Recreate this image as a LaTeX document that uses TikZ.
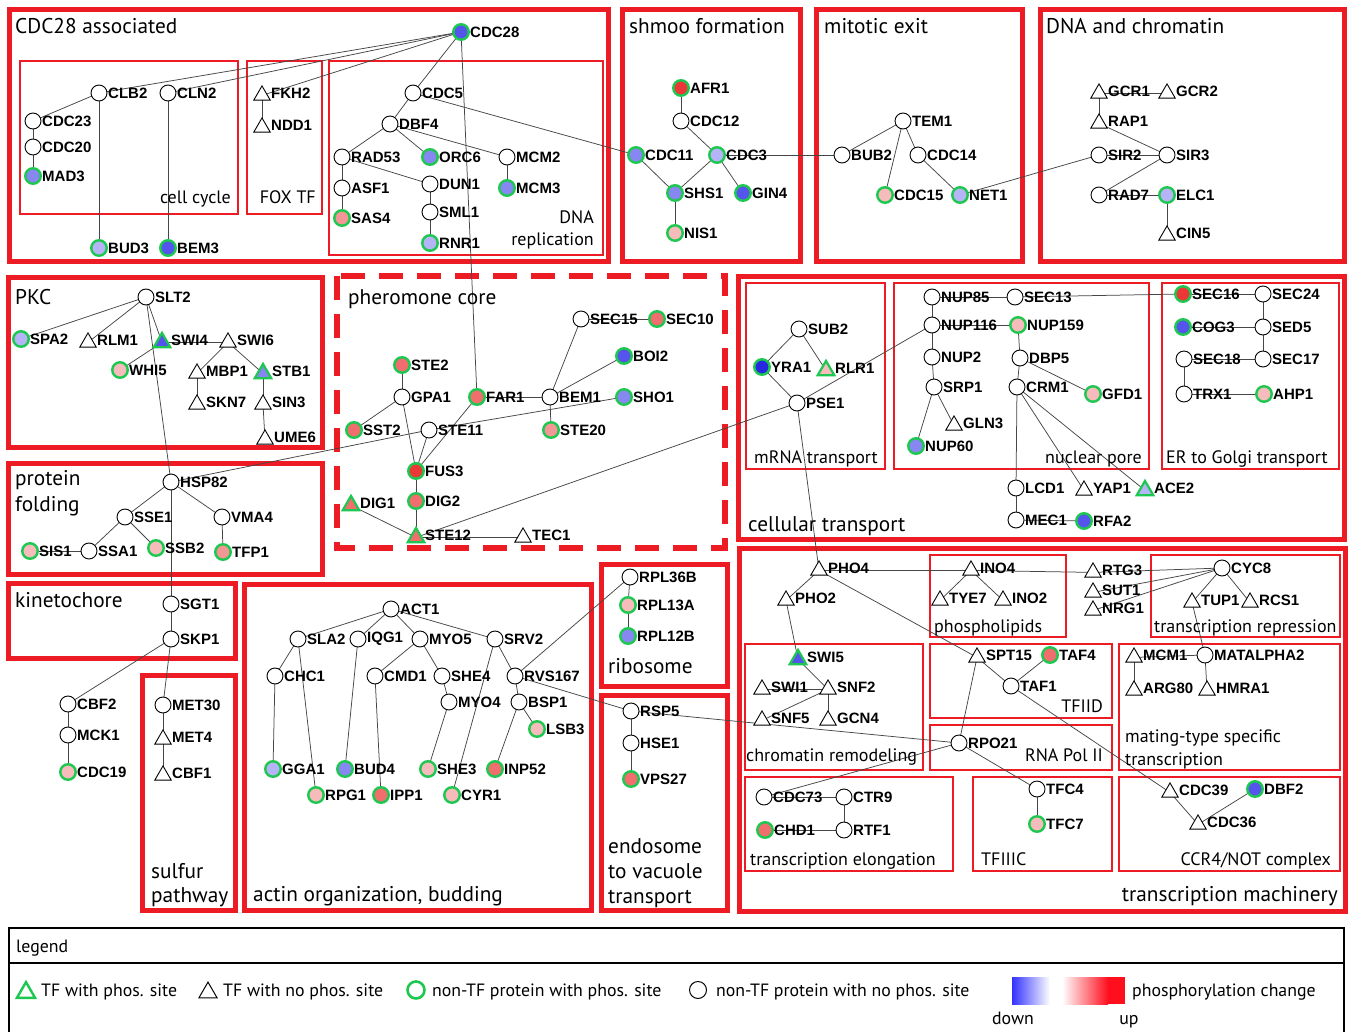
\documentclass[tikz,border=0pt]{standalone}
\usepackage{fontspec}
\setmainfont{PT Sans}
\newfontfamily\lblfam{Liberation Sans}
\usetikzlibrary{shapes.geometric}
\pgfdeclarelayer{bg}\pgfdeclarelayer{boxes}\pgfdeclarelayer{edges}
\pgfsetlayers{bg,boxes,edges,main}
\definecolor{boxred}{RGB}{237,28,36}
\definecolor{phgreen}{RGB}{30,200,80}
\definecolor{edgegray}{RGB}{70,70,70}
\definecolor{bVD}{RGB}{40,40,225}
\definecolor{bD}{RGB}{85,85,238}
\definecolor{bM}{RGB}{135,135,242}
\definecolor{bL}{RGB}{180,180,246}
\definecolor{rD}{RGB}{236,55,55}
\definecolor{rM}{RGB}{240,110,110}
\definecolor{rML}{RGB}{242,150,150}
\definecolor{rL}{RGB}{246,188,188}
\definecolor{gradblue}{RGB}{50,50,255}
\definecolor{gradred}{RGB}{255,15,30}
\tikzset{
 protein/.style={circle,draw=black,fill=white,line width=0.9pt,minimum size=16pt,inner sep=0pt},
 phos/.style={draw=phgreen,line width=2.4pt,minimum size=15.5pt},
 tfac/.style={regular polygon,regular polygon sides=3,draw=black,fill=white,line width=0.9pt,minimum size=19pt,inner sep=0pt,yshift=-2.4pt},
 tfphos/.style={draw=phgreen,line width=2.2pt},
 lbl/.style={font=\lblfam\bfseries\fontsize{15}{15}\selectfont,inner sep=0pt,anchor=west},
 edge/.style={draw=edgegray,line width=0.75pt},
 obox/.style={draw=boxred,line width=5pt},
 ibox/.style={draw=boxred,line width=2.2pt},
 dbox/.style={draw=boxred,line width=6pt,dash pattern=on 24pt off 14pt},
 title/.style={font=\fontsize{21.3}{24}\selectfont,inner sep=0pt,anchor=base west},
 sub/.style={font=\fontsize{18}{21}\selectfont,inner sep=0pt},
 legtext/.style={font=\fontsize{17.8}{20}\selectfont,inner sep=0pt,anchor=base west},
}
\newcommand\PRn[4][]{\node[protein,#1] (#2) at (#3,#4) {};\node[lbl] (#2-t) at ([xshift=9pt]#2.center) {#2};}
\newcommand\TFn[4][]{\node[tfac,#1] (#2) at (#3,#4) {};\node[lbl] (#2-t) at ([xshift=9pt,yshift=2.4pt]#2.center) {#2};}
\begin{document}
\begin{tikzpicture}[x=1pt,y=-1pt]
\begin{pgfonlayer}{bg}
\fill[white] (0,0) rectangle (1351,1032);
\end{pgfonlayer}
\useasboundingbox (0,0) rectangle (1351,1032);
% ---------- boxes ----------
\begin{pgfonlayer}{boxes}
\draw[obox] (9,10) rectangle (608,262);
\draw[ibox] (20,61) rectangle (238,214);
\draw[ibox] (247,61) rectangle (322,214);
\draw[ibox] (329,61) rectangle (603,255);
\draw[obox] (622,10) rectangle (800,262);
\draw[obox] (816,10) rectangle (1022,262);
\draw[obox] (1040,10) rectangle (1344,262);
\draw[obox] (8,277) rectangle (322,447);
\draw[obox] (8,463) rectangle (322,574);
\draw[dbox] (337,276) rectangle (725,548);
\draw[obox] (738,276) rectangle (1344,539);
\draw[ibox] (746,283) rectangle (885,469);
\draw[ibox] (894,283) rectangle (1149,469);
\draw[ibox] (1162,283) rectangle (1339,469);
\draw[obox] (8,583) rectangle (235,658);
\draw[obox] (142,675) rectangle (235,910);
\draw[obox] (244,584) rectangle (591,910);
\draw[obox] (601,564) rectangle (727,686);
\draw[obox] (601,695) rectangle (727,910);
\draw[obox] (739,548) rectangle (1345,911);
\draw[ibox] (930,555) rectangle (1066,637);
\draw[ibox] (1151,555) rectangle (1340,637);
\draw[ibox] (745,644) rectangle (923,770);
\draw[ibox] (930,644) rectangle (1112,718);
\draw[ibox] (930,725) rectangle (1112,770);
\draw[ibox] (1119,644) rectangle (1340,770);
\draw[ibox] (745,777) rectangle (953,871);
\draw[ibox] (973,777) rectangle (1112,871);
\draw[ibox] (1119,777) rectangle (1340,871);
\end{pgfonlayer}
% ---------- titles ----------
\node[title] (T1) at (15,34) {CDC28 associated};
\node[title] (T2) at (629,34) {shmoo formation};
\node[title] (T3) at (824,34) {mitotic exit};
\node[title] (T4) at (1046,34) {DNA and chromatin};
\node[title] (T5) at (15,304) {PKC};
\node[title] (T6a) at (15,485) {protein};
\node[title] (T6b) at (15,511) {folding};
\node[title] (T7) at (348,304) {pheromone core};
\node[title] (T8) at (748,531) {cellular transport};
\node[title] (T9) at (15,607) {kinetochore};
\node[title] (T10a) at (151,878) {sulfur};
\node[title] (T10b) at (151,902) {pathway};
\node[title] (T11) at (253,901) {actin organization, budding};
\node[title] (T12) at (608,673) {ribosome};
\node[title] (T13a) at (608,853) {endosome};
\node[title] (T13b) at (608,878) {to vacuole};
\node[title] (T13c) at (608,903) {transport};
\node[title,anchor=base east] (T14) at (1338,901) {transcription machinery};
\node[sub,anchor=base east] (S1) at (231,204) {cell cycle};
\node[sub,anchor=base east] (S2) at (316,204) {FOX TF};
\node[sub,anchor=base east] (S3a) at (594,224) {DNA};
\node[sub,anchor=base east] (S3b) at (594,246) {replication};
\node[sub,anchor=base west] (S4) at (754,463) {mRNA transport};
\node[sub,anchor=base east] (S5) at (1142,463) {nuclear pore};
\node[sub,anchor=base west] (S6) at (1166,463) {ER to Golgi transport};
\node[sub,anchor=base west] (S7) at (934,632) {phospholipids};
\node[sub,anchor=base west] (S8) at (1154,632) {transcription repression};
\node[sub,anchor=base west] (S9) at (746,761) {chromatin remodeling};
\node[sub,anchor=base east] (S10) at (1103,712) {TFIID};
\node[sub,anchor=base east] (S11) at (1103,761) {RNA Pol II};
\node[sub,anchor=base west] (S12a) at (1125,742) {mating-type specific};
\node[sub,anchor=base west] (S12b) at (1125,765) {transcription};
\node[sub,anchor=base west] (S13) at (750,865) {transcription elongation};
\node[sub,anchor=base west] (S14) at (981,865) {TFIIIC};
\node[sub,anchor=base east] (S15) at (1331,865) {CCR4/NOT complex};
% ---------- nodes: top row ----------
\PRn[phos,fill=bD]{CDC28}{461}{32}
\PRn{CLB2}{99}{93}
\PRn{CLN2}{168}{93}
\PRn{CDC23}{33}{121}
\PRn{CDC20}{33}{147}
\PRn[phos,fill=bM]{MAD3}{33}{176}
\PRn[phos,fill=bL]{BUD3}{99}{248}
\PRn[phos,fill=bD]{BEM3}{168}{248}
\TFn{FKH2}{262}{93}
\TFn{NDD1}{262}{125}
\PRn{CDC5}{413}{93}
\PRn{DBF4}{390}{124}
\PRn{RAD53}{342}{157}
\PRn[phos,fill=bM]{ORC6}{430}{157}
\PRn{ASF1}{342}{188}
\PRn[phos,fill=rML]{SAS4}{342}{218}
\PRn{DUN1}{430}{184}
\PRn{SML1}{430}{212}
\PRn[phos,fill=bL]{RNR1}{430}{243}
\PRn{MCM2}{507}{157}
\PRn[phos,fill=bM]{MCM3}{507}{188}
\PRn[phos,fill=rD]{AFR1}{681}{88}
\PRn{CDC12}{681}{121}
\PRn[phos,fill=bM]{CDC11}{636}{155}
\PRn[phos,fill=bL]{CDC3}{717}{155}
\PRn[phos,fill=bM]{SHS1}{675}{193}
\PRn[phos,fill=bD]{GIN4}{743}{193}
\PRn[phos,fill=rL]{NIS1}{675}{233}
\PRn{BUB2}{842}{155}
\PRn{TEM1}{903}{121}
\PRn{CDC14}{918}{155}
\PRn[phos,fill=rL]{CDC15}{885}{195}
\PRn[phos,fill=bL]{NET1}{960}{195}
\TFn{GCR1}{1099}{91}
\TFn{GCR2}{1167}{91}
\TFn{RAP1}{1099}{121}
\PRn{SIR2}{1099}{155}
\PRn{SIR3}{1167}{155}
\PRn{RAD7}{1099}{195}
\PRn[phos,fill=bL]{ELC1}{1167}{195}
\TFn{CIN5}{1167}{233}
% ---------- PKC / folding ----------
\PRn{SLT2}{146}{297}
\PRn[phos,fill=bL]{SPA2}{21}{339}
\TFn{RLM1}{88}{340}
\TFn[tfphos,fill=bD]{SWI4}{162}{340}
\TFn{SWI6}{228}{340}
\PRn[phos,fill=rL]{WHI5}{120}{370}
\TFn{MBP1}{197}{371}
\TFn[tfphos,fill=bM]{STB1}{263}{371}
\TFn{SKN7}{197}{402}
\TFn{SIN3}{263}{402}
\TFn{UME6}{265}{437}
\PRn{HSP82}{171}{482}
\PRn{SSE1}{125}{517}
\PRn{VMA4}{222}{517}
\PRn[phos,fill=rL]{SIS1}{30}{551}
\PRn{SSA1}{89}{551}
\PRn[phos,fill=rL]{SSB2}{156}{548}
\PRn[phos,fill=rML]{TFP1}{223}{552}
% ---------- pheromone ----------
\PRn{SEC15}{581}{319}
\PRn[phos,fill=rM]{SEC10}{657}{319}
\PRn[phos,fill=bD]{BOI2}{624}{356}
\PRn[phos,fill=rM]{STE2}{402}{365}
\PRn{GPA1}{402}{397}
\PRn[phos,fill=rM]{FAR1}{477}{397}
\PRn{BEM1}{550}{397}
\PRn[phos,fill=bM]{SHO1}{624}{397}
\PRn[phos,fill=rM]{SST2}{354}{430}
\PRn{STE11}{429}{430}
\PRn[phos,fill=rML]{STE20}{551}{430}
\PRn[phos,fill=rD]{FUS3}{416}{471}
\TFn[tfphos,fill=rM]{DIG1}{351}{503}
\PRn[phos,fill=rM]{DIG2}{416}{501}
\TFn[tfphos,fill=rM]{STE12}{416}{535}
\TFn{TEC1}{523}{535}
% ---------- cellular transport ----------
\PRn{SUB2}{799}{329}
\PRn[phos,fill=bVD]{YRA1}{762}{367}
\TFn[tfphos,fill=rL]{RLR1}{826}{368}
\PRn{PSE1}{797}{403}
\PRn{NUP85}{932}{297}
\PRn{SEC13}{1015}{297}
\PRn{NUP116}{932}{325}
\PRn[phos,fill=rL]{NUP159}{1018}{325}
\PRn{NUP2}{932}{357}
\PRn{DBP5}{1020}{358}
\PRn{SRP1}{934}{387}
\PRn{CRM1}{1017}{387}
\PRn[phos,fill=rL]{GFD1}{1093}{394}
\TFn{GLN3}{954}{423}
\PRn[phos,fill=bM]{NUP60}{916}{446}
\PRn{LCD1}{1016}{488}
\TFn{YAP1}{1084}{488}
\TFn[tfphos,fill=bL]{ACE2}{1145}{488}
\PRn{MEC1}{1016}{520}
\PRn[phos,fill=bD]{RFA2}{1084}{521}
\PRn[phos,fill=rD]{SEC16}{1183}{294}
\PRn{SEC24}{1263}{294}
\PRn[phos,fill=bD]{COG3}{1183}{327}
\PRn{SED5}{1263}{327}
\PRn{SEC18}{1184}{359}
\PRn{SEC17}{1263}{359}
\PRn{TRX1}{1184}{394}
\PRn[phos,fill=rL]{AHP1}{1264}{394}
% ---------- kinetochore / sulfur ----------
\PRn{SGT1}{171}{604}
\PRn{SKP1}{171}{639}
\PRn{CBF2}{68}{704}
\PRn{MCK1}{68}{735}
\PRn[phos,fill=rL]{CDC19}{68}{772}
\PRn{MET30}{163}{705}
\TFn{MET4}{163}{737}
\TFn{CBF1}{163}{773}
% ---------- actin ----------
\PRn{ACT1}{391}{609}
\PRn{SLA2}{298}{639}
\PRn{IQG1}{358}{639}
\PRn{MYO5}{420}{639}
\PRn{SRV2}{495}{639}
\PRn{CHC1}{275}{676}
\PRn{CMD1}{375}{676}
\PRn{SHE4}{442}{676}
\PRn{RVS167}{515}{676}
\PRn{MYO4}{449}{702}
\PRn{BSP1}{519}{702}
\PRn[phos,fill=rL]{LSB3}{537}{729}
\PRn[phos,fill=bL]{GGA1}{273}{769}
\PRn[phos,fill=bM]{BUD4}{345}{769}
\PRn[phos,fill=rL]{SHE3}{428}{769}
\PRn[phos,fill=rM]{INP52}{495}{769}
\PRn[phos,fill=rL]{RPG1}{316}{795}
\PRn[phos,fill=rM]{IPP1}{381}{795}
\PRn[phos,fill=rL]{CYR1}{452}{795}
% ---------- ribosome / endosome ----------
\PRn{RPL36B}{630}{577}
\PRn[phos,fill=rL]{RPL13A}{628}{605}
\PRn[phos,fill=bM]{RPL12B}{628}{636}
\PRn{RSP5}{631}{711}
\PRn{HSE1}{631}{743}
\PRn[phos,fill=rM]{VPS27}{631}{779}
% ---------- transcription ----------
\TFn{PHO4}{819}{568}
\TFn{PHO2}{786}{598}
\TFn{INO4}{971}{568}
\TFn{TYE7}{940}{598}
\TFn{INO2}{1003}{598}
\TFn{RTG3}{1093}{570}
\TFn{SUT1}{1093}{590}
\TFn{NRG1}{1093}{608}
\PRn{CYC8}{1222}{568}
\TFn{TUP1}{1192}{600}
\TFn{RCS1}{1250}{600}
\TFn[tfphos,fill=bD]{SWI5}{798}{657}
\TFn{SWI1}{762}{687}
\TFn{SNF2}{828}{687}
\TFn{SNF5}{762}{718}
\TFn{GCN4}{828}{718}
\TFn{SPT15}{977}{655}
\PRn[phos,fill=rM]{TAF4}{1050}{655}
\PRn{TAF1}{1011}{686}
\TFn{MCM1}{1134}{655}
\PRn{MATALPHA2}{1205}{655}
\TFn{ARG80}{1134}{688}
\TFn{HMRA1}{1207}{688}
\PRn{RPO21}{959}{743}
\PRn{CDC73}{764}{797}
\PRn{CTR9}{844}{797}
\PRn[phos,fill=rM]{CHD1}{765}{830}
\PRn{RTF1}{844}{830}
\PRn{TFC4}{1037}{789}
\PRn[phos,fill=rL]{TFC7}{1037}{824}
\TFn{CDC39}{1170}{790}
\PRn[phos,fill=bD]{DBF2}{1255}{789}
\TFn{CDC36}{1198}{822}
% ---------- edges ----------
\begin{pgfonlayer}{edges}
\foreach \a/\b in {CDC28/CLB2,CDC28/CLN2,CDC28/FKH2,CDC28/CDC5,CDC28/FAR1,
 CLB2/CDC23,CLB2/BUD3,CLN2/BEM3,CDC23/CDC20,CDC20/MAD3,FKH2/NDD1,
 CDC5/DBF4,CDC5/CDC11,DBF4/RAD53,DBF4/ORC6,DBF4/MCM2,RAD53/ASF1,RAD53/DUN1,ASF1/SAS4,DUN1/SML1,SML1/RNR1,MCM2/MCM3,
 AFR1/CDC12,CDC12/CDC3,CDC11/SHS1,CDC3/SHS1,CDC3/GIN4,SHS1/NIS1,CDC3/BUB2,
 BUB2/TEM1,TEM1/CDC15,TEM1/CDC14,CDC14/NET1,NET1/SIR2,
 GCR1/GCR2,GCR1/RAP1,RAP1/SIR3,SIR2/SIR3,SIR3/RAD7,RAD7/ELC1,ELC1/CIN5,
 SLT2/SPA2,SLT2/RLM1,SLT2/SWI4,SLT2/HSP82,SWI4/WHI5,SWI4/SWI6,SWI6/MBP1,SWI6/STB1,MBP1/SKN7,STB1/SIN3,SIN3/UME6,
 HSP82/SSE1,HSP82/VMA4,HSP82/SGT1,HSP82/STE11,SSE1/SSA1,SSE1/SSB2,SIS1/SSA1,VMA4/TFP1,
 STE2/GPA1,GPA1/SST2,GPA1/FUS3,STE11/FUS3,FAR1/FUS3,FAR1/BEM1,BEM1/SEC15,BEM1/BOI2,BEM1/STE20,SEC15/SEC10,STE11/SHO1,FUS3/DIG2,DIG2/STE12,DIG1/STE12,STE12/TEC1,STE12/PSE1,
 SUB2/YRA1,SUB2/RLR1,YRA1/PSE1,PSE1/NUP116,PSE1/PHO4,
 NUP85/SEC13,NUP85/NUP116,NUP116/NUP159,NUP116/NUP2,NUP2/SRP1,SRP1/GLN3,SRP1/NUP60,NUP159/DBP5,DBP5/CRM1,DBP5/GFD1,CRM1/LCD1,CRM1/YAP1,CRM1/ACE2,LCD1/MEC1,MEC1/RFA2,
 SEC13/SEC16,SEC16/SEC24,SEC24/SED5,COG3/SED5,SED5/SEC17,SEC18/SEC17,SEC18/TRX1,TRX1/AHP1,
 SGT1/SKP1,SKP1/CBF2,SKP1/MET30,CBF2/MCK1,MCK1/CDC19,MET30/MET4,MET4/CBF1,
 ACT1/SLA2,ACT1/IQG1,ACT1/MYO5,ACT1/SRV2,SLA2/CHC1,SLA2/RPG1,CHC1/GGA1,IQG1/BUD4,MYO5/CMD1,MYO5/SHE4,CMD1/IPP1,SHE4/MYO4,MYO4/SHE3,SRV2/CYR1,SRV2/RVS167,RVS167/BSP1,BSP1/LSB3,BSP1/INP52,RVS167/RPL36B,RVS167/RSP5,
 RPL36B/RPL13A,RPL13A/RPL12B,RSP5/HSE1,HSE1/VPS27,RSP5/RPO21,
 PHO4/PHO2,PHO4/INO4,INO4/RTG3,RTG3/CYC8,SUT1/CYC8,NRG1/CYC8,INO4/TYE7,INO4/INO2,PHO4/SPT15,PHO2/SWI5,SWI5/SNF2,SWI1/SNF2,SNF2/SNF5,SNF2/GCN4,
 SPT15/TAF1,TAF1/TAF4,TAF1/CDC39,SPT15/RPO21,RPO21/CDC73,RPO21/TFC4,
 CYC8/TUP1,CYC8/RCS1,TUP1/MATALPHA2,MCM1/MATALPHA2,MCM1/ARG80,MATALPHA2/HMRA1,
 CDC73/CTR9,CTR9/RTF1,CHD1/RTF1,TFC4/TFC7,CDC39/CDC36,CDC36/DBF2}
 \draw[edge] (\a.center) -- (\b.center);
\end{pgfonlayer}
% ---------- legend ----------
\draw[line width=2pt] (9,928) rectangle (1344,1050);
\draw[line width=2pt] (9,963) -- (1344,963);
\node[legtext] (Lg) at (16,952) {legend};
\node[regular polygon,regular polygon sides=3,draw=phgreen,line width=2.4pt,fill=white,minimum size=21pt,inner sep=0pt,yshift=-2.6pt] (LG1) at (26,990) {};
\node[legtext] (LG1t) at (41,996) {TF with phos. site};
\node[regular polygon,regular polygon sides=3,draw=black,line width=1pt,fill=white,minimum size=21pt,inner sep=0pt,yshift=-2.6pt] (LG2) at (208,990) {};
\node[legtext] (LG2t) at (223,996) {TF with no phos. site};
\node[circle,draw=phgreen,line width=2.6pt,fill=white,minimum size=17pt,inner sep=0pt] (LG3) at (416,990) {};
\node[legtext] (LG3t) at (432,996) {non-TF protein with phos. site};
\node[circle,draw=black,line width=1pt,fill=white,minimum size=17pt,inner sep=0pt] (LG4) at (698,990) {};
\node[legtext] (LG4t) at (716,996) {non-TF protein with no phos. site};
\shade[left color=gradblue,right color=white] (1012,977) rectangle (1050,1004);
\fill[white] (1050,977) rectangle (1062,1004);
\shade[left color=white,right color=gradred] (1062,977) rectangle (1108,1004);
\fill[gradred] (1108,977) rectangle (1125,1004);
\node[legtext] (LG5t) at (1132,996) {phosphorylation change};
\node[legtext,anchor=base] (LGd) at (1013,1024) {down};
\node[legtext,anchor=base] (LGu) at (1129,1024) {up};
\end{tikzpicture}
\end{document}
